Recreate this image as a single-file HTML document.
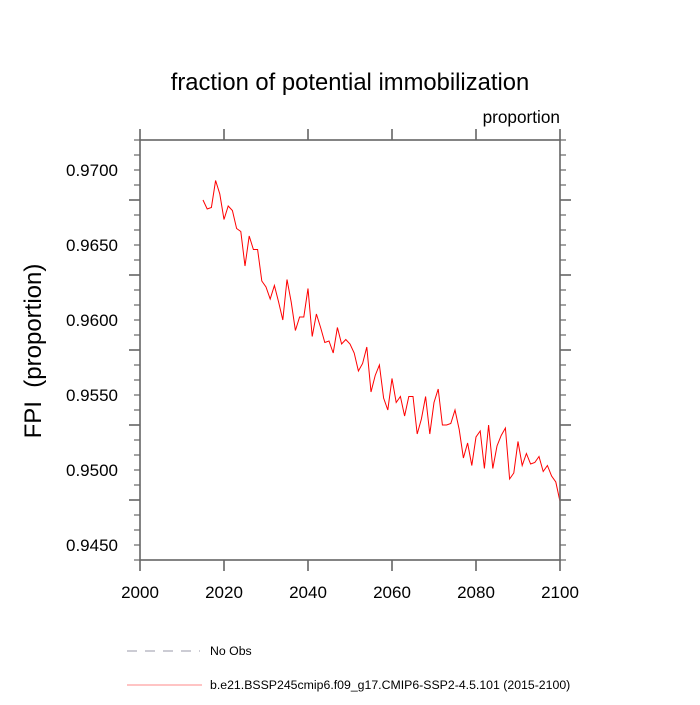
<!DOCTYPE html>
<html><head><meta charset="utf-8"><style>
body{margin:0;background:#fff;}
svg text{font-family:"Liberation Sans",sans-serif;fill:#000;}
</style></head><body>
<svg id="chart" width="700" height="700" xmlns="http://www.w3.org/2000/svg">
<text x="350" y="90" font-size="23.8" text-anchor="middle">fraction of potential immobilization</text>
<text x="560" y="123" font-size="17.2" text-anchor="end">proportion</text>
<text transform="translate(41,351) rotate(-90)" font-size="24" text-anchor="middle" xml:space="preserve">FPI  (proportion)</text>
<g id="axes"></g>
<path id="series" fill="none" stroke="#ff0000" stroke-width="1"/>
<rect x="140" y="140" width="420" height="420" fill="none" stroke="#666" stroke-width="1.6"/>
<line x1="127" y1="651" x2="200" y2="651" stroke="#9a9aa8" stroke-dasharray="10,8"/>
<text x="210" y="655" font-size="12.3">No Obs</text>
<line x1="127" y1="685" x2="202" y2="685" stroke="#ff8888"/>
<text x="210" y="689" font-size="12.3">b.e21.BSSP245cmip6.f09_g17.CMIP6-SSP2-4.5.101 (2015-2100)</text>
</svg>
<script>
const startYear = 2015;
const values = [.9680,.9674,.9675,.9693,.9684,.9667,.9676,.9673,.9661,.9659,.9636,.9656,.9647,.9647,.9626,.9622,.9614,.9623,.9612,.9600,.9627,.9612,.9593,.9602,.9602,.9621,.9589,.9604,.9595,.9585,.9586,.9578,.9595,.9584,.9587,.9584,.9578,.9566,.9571,.9582,.9552,.9563,.9570,.9548,.9540,.9561,.9545,.9549,.9536,.9549,.9549,.9524,.9534,.9549,.9524,.9545,.9554,.9530,.9530,.9531,.9540,.9527,.9508,.9518,.9503,.9522,.9526,.9501,.9530,.9501,.9516,.9523,.9528,.9494,.9498,.9519,.9503,.9511,.9504,.9505,.9509,.9499,.9503,.9496,.9492,.9479];
const xTicks = [2000,2020,2040,2060,2080,2100];
const yTicks = [0.9450,0.9500,0.9550,0.9600,0.9650,0.9700];
const xDomain=[2000,2100], yDomain=[0.944,0.972];
const L=140,R=560,T=140,B=560;
const xs=v=>L+(v-xDomain[0])/(xDomain[1]-xDomain[0])*(R-L);
const ys=v=>B-(v-yDomain[0])/(yDomain[1]-yDomain[0])*(B-T);
const NS='http://www.w3.org/2000/svg';
const g=document.getElementById('axes');
function ln(x1,y1,x2,y2,w){const l=document.createElementNS(NS,'line');l.setAttribute('x1',x1);l.setAttribute('y1',y1);l.setAttribute('x2',x2);l.setAttribute('y2',y2);l.setAttribute('stroke','#666');l.setAttribute('stroke-width',w);g.appendChild(l);return l;}
xTicks.forEach(t=>{const x=xs(t);
 let a=ln(x,B,x,B+11,1.6);
 let b=ln(x,T,x,T-11,1.6);});
for(let i=0;i<=28;i++){const v=yDomain[0]+i*0.001;const y=ys(v);const major=((i+1)%5===0);const len=major?11:6;const w=major?1.6:1.2;
 let a=ln(L,y,L-len,y,w);
 let b=ln(R,y,R+len,y,w);}
xTicks.forEach(t=>{const e=document.createElementNS(NS,'text');e.setAttribute('x',xs(t));e.setAttribute('y',B+38);e.setAttribute('font-size','17');e.setAttribute('text-anchor','middle');e.textContent=t;
 
 g.appendChild(e);});
yTicks.forEach(t=>{const e=document.createElementNS(NS,'text');e.setAttribute('x',118);e.setAttribute('y',ys(t)+6);e.setAttribute('font-size','17');e.setAttribute('text-anchor','end');e.textContent=t.toFixed(4);
 
 g.appendChild(e);});
document.getElementById('series').setAttribute('d',values.map((v,i)=>(i?'L':'M')+xs(startYear+i).toFixed(1)+','+ys(v).toFixed(1)).join(''));
</script>
</body></html>
